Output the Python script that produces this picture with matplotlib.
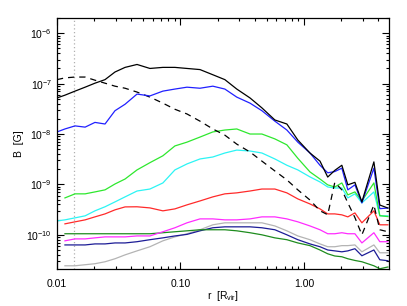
import numpy as np
import matplotlib
matplotlib.use('Agg')
import matplotlib.pyplot as plt
from matplotlib.ticker import LogLocator, FixedLocator, NullFormatter

plt.rcParams['font.family'] = ['Liberation Sans', 'DejaVu Sans']
plt.rcParams['mathtext.fontset'] = 'custom'
plt.rcParams['mathtext.rm'] = 'Liberation Sans'
plt.rcParams['mathtext.it'] = 'Liberation Sans'

nan = np.nan

# radius grid [R_vir]
r = [0.0100, 0.0116, 0.0140, 0.0169, 0.0203, 0.0245, 0.0295, 0.0356, 0.0445,
     0.0566, 0.0721, 0.0902, 0.113, 0.144, 0.183, 0.229, 0.286, 0.366, 0.457,
     0.582, 0.728, 0.893, 1.12, 1.35, 1.56, 1.78, 2.03, 2.27, 2.59, 2.95,
     3.69, 4.12, 4.79]

# magnetic field profiles [G]
b_black = [5.2e-8, 5.9e-8, 7.1e-8, 8.5e-8, 1.02e-7, 1.2e-7, 1.7e-7, 2.1e-7, 2.4e-7,
           2.0e-7, 2.1e-7, 2.1e-7, 2.0e-7, 1.9e-7, 1.5e-7, 1.2e-7, 7.8e-8, 5.2e-8, 3.3e-8,
           1.9e-8, 1.58e-8, 7.6e-9, 4.2e-9, 2.9e-9, 1.4e-9, 1.9e-9, 2.4e-9, 9.8e-10, 1.1e-9,
           4.5e-10, 2.8e-9, 3.9e-10, 3.4e-10]
b_blue = [1.1e-8, 1.26e-8, 1.45e-8, 1.37e-8, 1.7e-8, 1.58e-8, 2.9e-8, 3.9e-8, 6.2e-8,
          5.7e-8, 7.1e-8, 7.8e-8, 8.5e-8, 8.1e-8, 8.9e-8, 7.8e-8, 5.4e-8, 4.1e-8, 2.9e-8,
          1.8e-8, 1.2e-8, 6.9e-9, 4.2e-9, 2.4e-9, 1.7e-9, 1.8e-9, 2.1e-9, 7.8e-10, 9.8e-10,
          4.3e-10, 2.1e-9, 3.3e-10, 3.4e-10]
b_dashed = [1.2e-7, 1.3e-7, 1.35e-7, 1.35e-7, 1.17e-7, 1.02e-7, 8.9e-8, 8.1e-8, 6.8e-8,
            5.4e-8, 4.1e-8, 3.1e-8, 2.5e-8, 1.8e-8, 1.26e-8, 9.5e-9, 6.3e-9, 4.4e-9, 2.9e-9,
            1.85e-9, 1.23e-9, 7.8e-10, 4.9e-10, 3.0e-10, 2.5e-10, 1.1e-9, 7.8e-10, 4.3e-10,
            2.2e-10, 1.0e-10, 3.9e-10, 1.26e-10, 1.15e-10]
b_green = [nan, 5.4e-10, 6.5e-10, 6.5e-10, 7.1e-10, 7.8e-10, 1.02e-9, 1.28e-9, 1.94e-9,
           2.7e-9, 3.7e-9, 5.8e-9, 6.9e-9, 8.7e-9, 1.1e-8, 1.2e-8, 1.26e-8, 1.0e-8, 1.0e-8,
           8.0e-9, 6.1e-9, 3.3e-9, 1.77e-9, 1.28e-9, 9.8e-10, 8.9e-10, 1.07e-9, 6.2e-10,
           7.1e-10, 4.7e-10, 1.07e-9, 2.4e-10, 2.3e-10]
b_cyan = [1.89e-10, 1.98e-10, 2.17e-10, 2.38e-10, 2.99e-10, 3.6e-10, 4.5e-10, 5.66e-10,
          7.4e-10, 8.1e-10, 1.07e-9, 1.94e-9, 2.55e-9, 3.2e-9, 3.5e-9, 4.2e-9, 4.8e-9,
          4.6e-9, 4.2e-9, 3.2e-9, 2.4e-9, 1.94e-9, 1.41e-9, 1.12e-9, 8.9e-10, 8.5e-10,
          8.5e-10, 5.4e-10, 6.5e-10, 4.3e-10, 7.1e-10, 2.38e-10, 2.38e-10]
b_red = [nan, 1.65e-10, 1.81e-10, 1.98e-10, 2.27e-10, 2.6e-10, 3.13e-10, 3.58e-10, 3.6e-10,
         3.42e-10, 2.99e-10, 3.27e-10, 3.93e-10, 4.7e-10, 5.66e-10, 6.5e-10, 6.8e-10,
         7.4e-10, 8.1e-10, 8.1e-10, 6.8e-10, 5.16e-10, 4.1e-10, 3.27e-10, 2.6e-10, 2.6e-10,
         2.49e-10, 2.27e-10, 2.72e-10, 1.73e-10, 2.99e-10, 1.58e-10, 1.58e-10]
b_magenta = [nan, 7.6e-11, 8.3e-11, 8.3e-11, 8.7e-11, 9.1e-11, 9.1e-11, 9.1e-11, 9.5e-11,
             9.5e-11, 1.15e-10, 1.38e-10, 1.73e-10, 2.07e-10, 2.07e-10, 1.98e-10, 1.98e-10,
             2.07e-10, 2.27e-10, 2.27e-10, 2.07e-10, 1.81e-10, 1.5e-10, 1.26e-10, 1.05e-10,
             1.05e-10, 1.1e-10, 1.05e-10, 1.05e-10, 6.9e-11, 1.1e-10, 7.3e-11, 7.3e-11]
b_dkgreen = [nan, 1.05e-10, 1.05e-10, 1.05e-10, 1.05e-10, 1.05e-10, 1.05e-10, 1.05e-10,
             1.05e-10, 1.05e-10, 1.1e-10, 1.15e-10, 1.2e-10, 1.26e-10, 1.26e-10, 1.26e-10,
             1.2e-10, 1.1e-10, 1.0e-10, 8.7e-11, 8.0e-11, 6.9e-11, 6.1e-11, 5.0e-11, 4.2e-11,
             3.8e-11, 3.67e-11, 3.35e-11, 3.1e-11, 2.92e-11, 2.43e-11, 2.12e-11, 2.3e-11]
b_navy = [nan, 6.3e-11, 6.3e-11, 6.3e-11, 6.6e-11, 6.6e-11, 6.9e-11, 6.9e-11, 7.3e-11,
          8.0e-11, 8.7e-11, 9.5e-11, 1.02e-10, 1.2e-10, 1.38e-10, 1.44e-10, 1.44e-10,
          1.44e-10, 1.38e-10, 1.26e-10, 1.0e-10, 8.0e-11, 6.6e-11, 5.8e-11, 5.0e-11, 4.8e-11,
          4.6e-11, 4.8e-11, 5.3e-11, 3.84e-11, 5.0e-11, 3.2e-11, 3.06e-11]
b_gray = [nan, 2.43e-11, 2.43e-11, 2.55e-11, 2.67e-11, 2.92e-11, 3.35e-11, 4.0e-11, 4.8e-11,
          5.8e-11, 7.6e-11, 9.1e-11, 1.05e-10, 1.26e-10, 1.58e-10, 1.73e-10, 1.73e-10,
          1.73e-10, 1.73e-10, 1.5e-10, 1.2e-10, 9.5e-11, 8.0e-11, 6.6e-11, 5.8e-11, 5.8e-11,
          6.1e-11, 6.1e-11, 6.3e-11, 4.6e-11, 6.3e-11, 4.4e-11, 4.4e-11]

r_mark = 0.0137  # dotted vertical marker

fig = plt.figure(figsize=(4.07, 3.06), dpi=100)
ax = fig.add_axes([0.140, 0.121, 0.816, 0.820])

ax.axvline(r_mark, color='#b0b0b0', lw=0.9, ls=(0, (1, 2)))

lw = 0.9
ax.plot(r, b_gray, color='#b4b4b4', lw=lw)
ax.plot(r, b_navy, color='#1c1c96', lw=lw)
ax.plot(r, b_dkgreen, color='#1e8c1e', lw=lw)
ax.plot(r, b_magenta, color='#ff2cff', lw=lw)
ax.plot(r, b_red, color='#ff2a2a', lw=lw)
ax.plot(r, b_cyan, color='#2cf4f4', lw=lw)
ax.plot(r, b_green, color='#2ee82e', lw=lw)
ax.plot(r, b_dashed, color='black', lw=lw, ls=(0, (5, 4)))
ax.plot(r, b_blue, color='#2020ff', lw=lw)
ax.plot(r, b_black, color='black', lw=lw)

ax.set_xscale('log')
ax.set_yscale('log')
ax.set_xlim(0.01, 4.9)
ax.set_ylim(2.1e-11, 2.0e-6)

ax.xaxis.set_major_locator(FixedLocator([0.01, 0.1, 1.0]))
ax.set_xticklabels(['0.01', '0.10', '1.00'])
ax.xaxis.set_minor_locator(LogLocator(base=10, subs=np.arange(2, 10), numticks=20))
ax.xaxis.set_minor_formatter(NullFormatter())
ax.yaxis.set_major_locator(FixedLocator([1e-10, 1e-9, 1e-8, 1e-7, 1e-6]))
ax.set_yticklabels(['10$^{-10}$', '10$^{-9}$', '10$^{-8}$', '10$^{-7}$', '10$^{-6}$'])
ax.yaxis.set_minor_locator(LogLocator(base=10, subs=np.arange(2, 10), numticks=20))
ax.yaxis.set_minor_formatter(NullFormatter())

ax.tick_params(which='both', direction='in', top=True, right=True, labelsize=7.5, width=0.8)
ax.tick_params(which='major', length=5)
ax.tick_params(which='minor', length=2.5)
ax.tick_params(axis='x', pad=7)
for s in ax.spines.values():
    s.set_linewidth(0.9)

ax.set_xlabel('r  [R$_{vir}$]', fontsize=7.5, labelpad=0)
ax.set_ylabel('B  [G]', fontsize=7.5, labelpad=2)

fig.savefig('out.png', dpi=100)
